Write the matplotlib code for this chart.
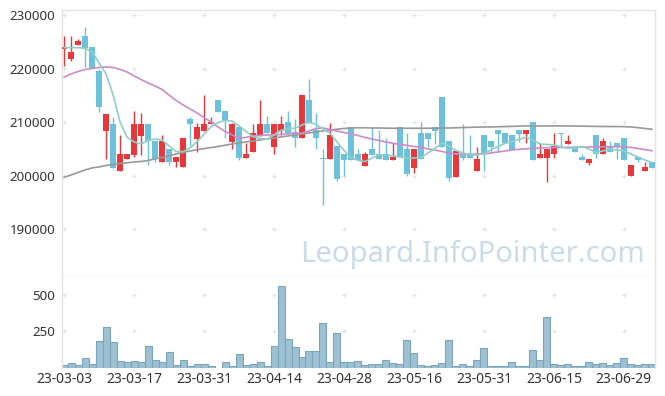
from matplotlib import pyplot as plt
import numpy as np

plt.rcParams['font.family'] = ['Noto Sans', 'DejaVu Sans']

# OHLC per trading day (23-03-03 .. 23-07-05)
opens = [223600, 221790, 224400, 226140, 224090, 219610, 208410, 209660, 200950, 203070,
         203880, 207420, 209660, 206540, 202510, 205000, 202510, 201580, 210590, 206860,
         208410, 209600, 214140, 212090, 206360, 209040, 203370, 204490, 207480, 209660,
         205430, 208410, 209980, 208220, 206990, 214140, 208540, 203200, 203070, 205560,
         204060, 209040, 204060, 201880, 205000, 204060, 204060, 202940, 209040, 204940,
         201390, 208040, 208040, 209040, 214640, 206490, 199720, 203880, 204010, 200950,
         207610, 206490, 208540, 208040, 207610, 208540, 207740, 210090, 203370, 203370,
         204010, 207930, 205870, 205130, 203560, 202440, 207610, 204010, 205560, 206060,
         207100, 200010, 203560, 200950, 202630]
highs = [226080, 226080, 225470, 227820, 224090, 219870, 211530, 211020, 207610, 204060,
         212140, 211770, 209660, 206540, 207610, 205000, 203450, 206990, 211020, 209900,
         215070, 211020, 214140, 212090, 209900, 209040, 206060, 209660, 214140, 211150,
         209660, 211150, 212090, 210540, 215070, 218000, 211660, 204940, 209900, 205560,
         204060, 209040, 204940, 204490, 209040, 208540, 206990, 206060, 209040, 207930,
         205000, 209980, 208040, 209040, 214640, 206490, 204620, 209660, 207610, 205430,
         207610, 206490, 208540, 208040, 207610, 208540, 208540, 210090, 206170, 205000,
         207930, 207930, 207610, 205130, 204060, 203070, 207610, 206990, 206490, 206060,
         207100, 202010, 203560, 202630, 202630]
lows = [220480, 221470, 224400, 220350, 220050, 211960, 203070, 201510, 200950, 203070,
        203450, 203880, 202010, 202630, 202510, 202010, 201580, 201580, 205610, 204490,
        208410, 209600, 211960, 206990, 204940, 202940, 203370, 204490, 207480, 207930,
        204060, 207610, 207930, 205430, 206990, 209900, 204940, 194550, 203070, 199080,
        200010, 202940, 202940, 201880, 203880, 203130, 202940, 202940, 203560, 200010,
        200460, 203130, 205430, 205930, 205430, 199080, 199720, 202940, 203370, 200950,
        200950, 204190, 204490, 206060, 204810, 206360, 206060, 202940, 203370, 198890,
        203370, 205430, 205870, 204490, 202940, 202010, 203370, 204010, 204380, 203070,
        202940, 200010, 202510, 200950, 201510]
closes = [224090, 223040, 225150, 223900, 220050, 212890, 211530, 201510, 204060, 204060,
          209660, 209660, 206540, 203070, 206490, 202510, 203450, 206990, 209600, 209040,
          209660, 210090, 211960, 210410, 209660, 203370, 204060, 207930, 209660, 207930,
          209660, 209660, 207930, 206990, 215070, 209900, 206990, 203130, 207610, 199400,
          202940, 202940, 202940, 204060, 203880, 203130, 202940, 203560, 203560, 200330,
          205000, 203130, 206860, 208410, 205430, 199530, 204620, 203370, 203370, 203130,
          204010, 205430, 207740, 206060, 204810, 207740, 208540, 202940, 204060, 205000,
          205560, 207740, 206490, 204490, 202940, 203070, 204010, 206490, 204380, 205560,
          202940, 202010, 202940, 201690, 201510]

# moving averages as drawn
ma5 = [223900, 223900, 223900, 223790, 223100, 221040, 219000, 215070, 210030, 207180,
       206300, 205930, 206580, 206860, 206670, 205560, 204530, 204490, 205180, 206360,
       207800, 209100, 209940, 210320, 210220, 209290, 208260, 207290, 206960, 206800,
       207610, 208450, 208820, 208870, 209470, 209980, 209570, 208730, 207930, 206300,
       204710, 203410, 202850, 202660, 203320, 203880, 203780, 203690, 203500, 203260,
       203320, 203370, 204250, 205090, 206060, 205560, 204710, 204250, 203880, 203880,
       204190, 204810, 205470, 206020, 206400, 206770, 207180, 206670, 205930, 205830,
       205740, 205370, 205120, 205270, 205430, 205000, 204350, 204620, 205000, 204810,
       204620, 204060, 203500, 202940, 202440]
ma20 = [218430, 218990, 219460, 219830, 220020, 220200, 220300, 220200, 219870, 219360,
        218620, 217960, 217310, 216750, 216100, 215070, 214050, 213210, 212460, 211710,
        210870, 210030, 209100, 208260, 207610, 207050, 207140, 207420, 207510, 207610,
        207610, 207700, 207800, 207890, 207980, 208350, 208820, 208910, 208630, 208350,
        208070, 207800, 207510, 207140, 206860, 206580, 206300, 206060, 205840, 205650,
        205460, 205280, 205000, 204810, 204530, 204250, 204060, 204010, 204010, 204030,
        204060, 204250, 204440, 204620, 204810, 204940, 205030, 205090, 205180, 205220,
        205280, 205290, 205310, 205310, 205330, 205370, 205370, 205410, 205430, 205430,
        205410, 205280, 205090, 204870, 204680]
ma60 = [199710, 200140, 200610, 201080, 201450, 201640, 201920, 202100, 202290, 202420,
        202570, 202660, 202850, 203130, 203410, 203690, 204060, 204340, 204620, 204850,
        205050, 205260, 205460, 205690, 205930, 206120, 206300, 206490, 206680, 206860,
        207050, 207240, 207420, 207610, 207800, 207980, 208170, 208350, 208540, 208670,
        208820, 208910, 208950, 208950, 208910, 208910, 208880, 208860, 208860, 208860,
        208860, 208860, 208860, 208880, 208910, 208910, 208950, 208990, 209030, 209060,
        209100, 209100, 209140, 209180, 209210, 209250, 209290, 209290, 209290, 209290,
        209290, 209290, 209290, 209270, 209250, 209230, 209210, 209190, 209180, 209180,
        209160, 209100, 208970, 208820, 208670]

volumes = [18, 32, 20, 68, 27, 184, 279, 177, 48, 41,
           48, 41, 150, 54, 41, 109, 20, 54, 14, 27,
           27, 14, 3, 41, 14, 95, 20, 27, 41, 14,
           150, 561, 197, 143, 75, 116, 116, 306, 41, 238,
           41, 41, 48, 20, 27, 27, 54, 34, 27, 191,
           102, 20, 14, 20, 34, 191, 14, 27, 14, 54,
           136, 14, 14, 14, 41, 14, 14, 123, 54, 347,
           27, 20, 27, 14, 14, 41, 27, 34, 20, 34,
           68, 27, 20, 27, 27]

tick_labels = ['23-03-03', '23-03-17', '23-03-31', '23-04-14', '23-04-28',
               '23-05-16', '23-05-31', '23-06-15', '23-06-29']
price_ticks = [190000, 200000, 210000, 220000, 230000]
volume_ticks = [250, 500]

opens, highs, lows, closes = map(np.array, (opens, highs, lows, closes))
idx = np.arange(len(closes))
tick_pos = idx[::10][:len(tick_labels)]

up_color = '#e9373b'
down_color = '#6cc2dc'
frame_color = '#e4e4e4'
text_color = '#333333'

fig = plt.figure(figsize=(6.65, 3.96), dpi=100)
ax = fig.add_axes([62 / 665, 1 - 277 / 396, 593 / 665, 267 / 396])
axv = fig.add_axes([62 / 665, 1 - 368 / 396, 593 / 665, 91 / 396], sharex=ax)

# ==================== свечи ====================
up = closes >= opens
colors = np.where(up, up_color, down_color)
ax.vlines(idx, lows, highs, colors=colors, lw=1, zorder=2)
body_low = np.minimum(opens, closes)
body_h = np.maximum(np.abs(closes - opens), 150)
ax.bar(idx, body_h, bottom=body_low, width=0.78, color=colors, lw=0, zorder=3)

ax.plot(idx, ma60, color='#999999', lw=1.2, zorder=4)
ax.plot(idx, ma20, color='#cc8ccb', lw=1.2, zorder=4)
ax.plot(idx, ma5, color='#8ed0c5', lw=1.2, zorder=4)

# ==================== объём ====================
axv.bar(idx, volumes, width=1.0, color='#9dc1d2', edgecolor='#7ba6ba', lw=0.8, zorder=2)

# сетка из крестиков
gx, gy = np.meshgrid(tick_pos, price_ticks)
ax.scatter(gx.ravel(), gy.ravel(), marker='+', s=12, color='#e2e2e2', lw=0.8, zorder=1)
gx, gy = np.meshgrid(tick_pos, volume_ticks)
axv.scatter(gx.ravel(), gy.ravel(), marker='+', s=12, color='#e2e2e2', lw=0.8, zorder=1)

ax.set_xlim(-0.3, 84.45)
ax.set_ylim(181100, 230930)
axv.set_ylim(0, 620)

ax.set_yticks(price_ticks)
ax.set_yticklabels([str(v) for v in price_ticks])
axv.set_yticks(volume_ticks)
axv.set_yticklabels([str(v) for v in volume_ticks])
axv.set_xticks(tick_pos)
axv.set_xticklabels(tick_labels)
ax.tick_params(axis='x', labelbottom=False, length=0)

for a in (ax, axv):
    a.tick_params(length=0, labelsize=9.6, colors=text_color, pad=5)
    a.tick_params(axis='x', pad=3, labelsize=10)
    for side in a.spines:
        a.spines[side].set_color(frame_color)
        a.spines[side].set_linewidth(1)
axv.spines['bottom'].set_visible(False)
axv.spines['top'].set_visible(False)

ax.text(0.983, 0.086, 'Leopard.InfoPointer.com', transform=ax.transAxes,
        ha='right', va='center', fontsize=21, color='#cadce8', zorder=0)

fig.savefig('out.png', dpi=100)
